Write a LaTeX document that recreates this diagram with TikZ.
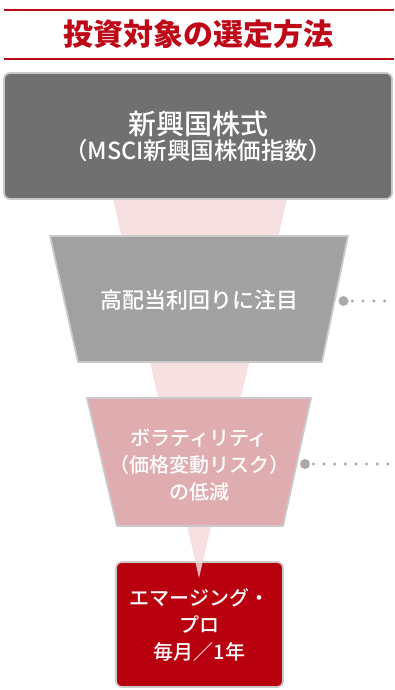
\documentclass[tikz,border=0pt]{standalone}
\usepackage{fontspec}
\setmainfont{Noto Sans CJK JP}
\newfontfamily\jpmedium{Noto Sans CJK JP Medium}
\usetikzlibrary{positioning}
\definecolor{titlered}{RGB}{190,8,24}
\definecolor{darkgrey}{RGB}{112,112,112}
\definecolor{midgrey}{RGB}{160,161,160}
\definecolor{rosebox}{RGB}{223,173,176}
\definecolor{deepred}{RGB}{184,0,15}
\definecolor{rimgrey}{RGB}{202,202,202}
\definecolor{funnelpink}{RGB}{245,218,220}
\definecolor{dotgrey}{RGB}{170,170,170}
\tikzset{
    titlerule/.style = {line width=2pt, titlered},
    titletext/.style = {text=titlered, font=\fontsize{30}{30}\selectfont\bfseries, inner sep=0pt},
    stagebox/.style  = {draw=rimgrey, line width=1.8pt, line join=round},
    roundbox/.style  = {stagebox, rounded corners=6pt, inner sep=0pt},
    boxtext/.style   = {text=white, align=center, inner sep=0pt},
    bigdot/.style    = {circle, fill=dotgrey, minimum size=10pt, inner sep=0pt},
    leader/.style    = {dotgrey, line width=3.4pt, line cap=round, dash pattern=on 0pt off #1},
}

\begin{document}
\begin{tikzpicture}[x=1pt, y=-1pt]

            \useasboundingbox (0,0) rectangle (394,690);

            % Draw title.
            \draw[titlerule] (4,10) -- (394,10);
            \node[titletext] (title) at (198,34) {投資対象の選定方法};
            \draw[titlerule] (4,59) -- (394,59);

            % Draw last stage.
            \node[roundbox, fill=deepred, minimum width=167pt, minimum height=125pt]
                (pro) at (199.5,624.5) {};
            \node[boxtext, font=\jpmedium\fontsize{20}{27}\selectfont] (protext) at (pro.center)
                {エマージング・\\プロ\\毎月／1年};

            % Draw funnel.
            \fill[funnelpink, opacity=.85] (113,199) -- (287,199) -- (199,578) -- cycle;

            % Draw first stage.
            \node[roundbox, fill=darkgrey, minimum width=388pt, minimum height=126pt]
                (market) at (198,136) {};
            \node[boxtext, font=\jpmedium\fontsize{23.5}{25}\selectfont] (markettext) at (market.center)
                {{\fontsize{28}{25}\selectfont 新興国株式}\\（MSCI新興国株価指数）};

            % Draw second stage.
            \filldraw[stagebox, fill=midgrey] (50,236) -- (348,236) -- (322,362) -- (78,362) -- cycle;
            \node[boxtext, font=\jpmedium\fontsize{22}{27}\selectfont] (yield) at (199,300) {高配当利回りに注目};

            % Draw third stage.
            \filldraw[stagebox, fill=rosebox] (87,398) -- (311,398) -- (283,526) -- (117,526) -- cycle;
            \node[boxtext, font=\jpmedium\fontsize{20}{27}\selectfont] (vol) at (199,465)
                {ボラティリティ\\（価格変動リスク）\\の低減};

            % Draw leaders.
            \node[bigdot] (yielddot) at (343.5,301) {};
            \coordinate (yieldend) at (385.5,301);
            \draw[leader=10.8pt, dash phase=7.3pt] (yielddot) -- (yieldend);

            \node[bigdot] (voldot) at (305,464) {};
            \coordinate (volend) at (388.5,464);
            \draw[leader=10.6pt, dash phase=7.3pt] (voldot) -- (volend);

\end{tikzpicture}
\end{document}
